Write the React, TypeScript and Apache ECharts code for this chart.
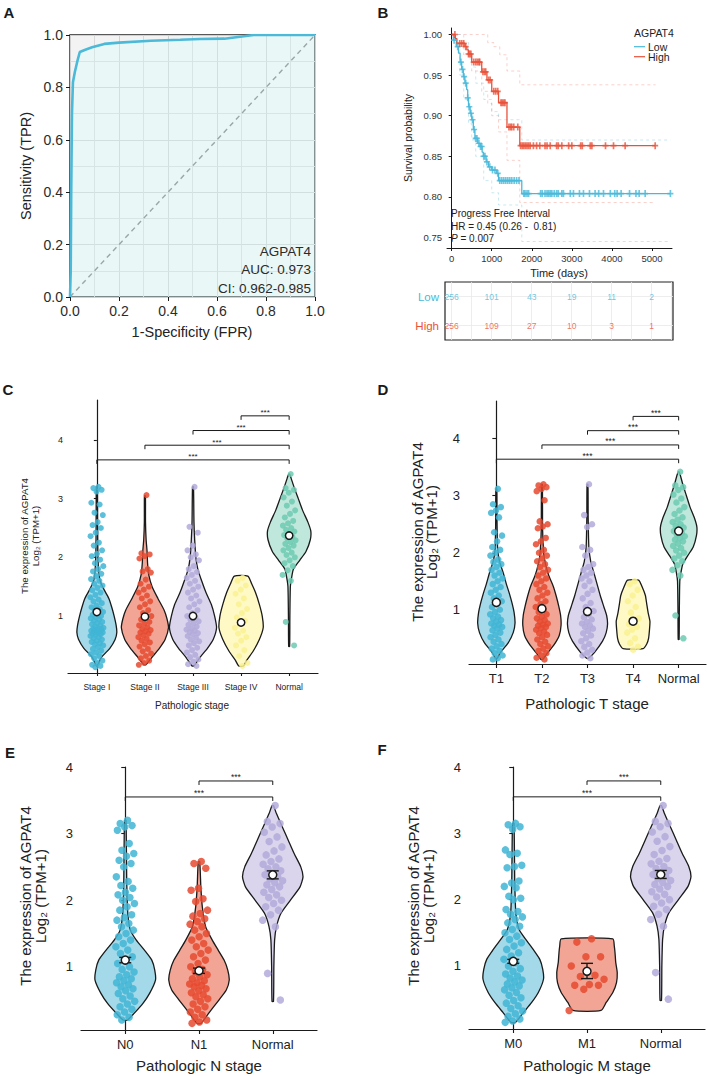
import React, { useEffect, useRef } from "react";
import * as echarts from "echarts";

const FONT = "'Liberation Sans', Arial, Helvetica, sans-serif";
const INK = "#1a1a1a";

// ---------- Panel A : ROC ----------
const rocFpr = [0, 0.003, 0.005, 0.008, 0.012, 0.02, 0.03, 0.04, 0.06, 0.09, 0.14, 0.2, 0.33, 0.45, 0.53, 0.63, 0.75, 1];
const rocTpr = [0, 0.1, 0.4, 0.7, 0.82, 0.86, 0.9, 0.935, 0.943, 0.953, 0.966, 0.971, 0.978, 0.982, 0.985, 0.986, 1, 1];
const rocLines = ["AGPAT4", "AUC: 0.973", "CI: 0.962-0.985"];
const rocMinorGrid = [0.1, 0.3, 0.5, 0.7, 0.9];

// ---------- Panel B : Kaplan-Meier ----------
const lowT = [0, 40, 120, 170, 210, 250, 290, 330, 375, 400, 420, 460, 500, 540, 580, 650, 710, 760, 790, 860, 920, 1000, 1125, 1170, 1750, 5460];
const lowS = [1, 0.993, 0.985, 0.977, 0.966, 0.957, 0.948, 0.94, 0.932, 0.922, 0.911, 0.903, 0.895, 0.883, 0.872, 0.866, 0.862, 0.855, 0.85, 0.843, 0.837, 0.833, 0.829, 0.82, 0.804, 0.804];
const highT = [0, 90, 130, 330, 380, 420, 500, 750, 880, 1000, 1170, 1380, 1700, 5090];
const highS = [1, 0.995, 0.989, 0.985, 0.981, 0.976, 0.966, 0.954, 0.944, 0.93, 0.916, 0.886, 0.863, 0.863];
const lowUpT = [0, 200, 300, 420, 500, 600, 800, 1000, 1170, 1750, 5460];
const lowUpS = [1, 1, 0.99, 0.97, 0.96, 0.94, 0.92, 0.905, 0.895, 0.87, 0.87];
const lowLoT = [0, 100, 200, 300, 420, 500, 600, 800, 1000, 1170, 1750, 5460];
const lowLoS = [1, 0.985, 0.95, 0.92, 0.89, 0.87, 0.85, 0.82, 0.805, 0.79, 0.745, 0.745];
const highUpT = [0, 700, 900, 1050, 1200, 1380, 1700, 5090];
const highUpS = [1, 1, 0.99, 0.985, 0.975, 0.955, 0.938, 0.938];
const highLoT = [0, 100, 300, 500, 750, 900, 1000, 1170, 1380, 1700, 5090];
const highLoS = [1, 0.99, 0.975, 0.955, 0.93, 0.915, 0.9, 0.88, 0.845, 0.793, 0.793];
const lowCensor = [60, 150, 230, 270, 310, 350, 400, 440, 480, 520, 560, 600, 630, 680, 720, 750, 800, 830, 880, 950, 1020, 1080, 1150, 1200, 1250, 1300, 1350, 1400, 1450, 1500, 1560, 1620, 1680, 1800, 1830, 1880, 1920, 2220, 2260, 2330, 2380, 2420, 2460, 2500, 2560, 2620, 2660, 2750, 2790, 2960, 3040, 3190, 3290, 3440, 3580, 3670, 3790, 3960, 4070, 4130, 4230, 4440, 4600, 4680, 4830, 5460];
const highCensor = [80, 200, 250, 300, 350, 420, 450, 480, 550, 600, 640, 680, 700, 780, 820, 850, 920, 960, 1050, 1100, 1150, 1230, 1260, 1300, 1330, 1430, 1470, 1500, 1550, 1650, 1720, 1760, 1800, 1840, 1880, 1920, 1960, 2040, 2120, 2200, 2330, 2380, 2460, 2620, 2660, 2750, 2920, 3000, 3220, 3260, 3460, 3500, 3840, 4040, 4330, 5080];
const kmXTicks = [0, 1000, 2000, 3000, 4000, 5000];
const kmYTicks = [0.75, 0.8, 0.85, 0.9, 0.95, 1.0];
const riskTimes = [0, 1000, 2000, 3000, 4000, 5000];
const riskLow = [256, 101, 43, 19, 11, 2];
const riskHigh = [256, 109, 27, 10, 3, 1];
const riskRows = ["High", "Low"];
const tableLines = [0, 500, 1000, 1500, 2000, 2500, 3000, 3500, 4000, 4500, 5000, 5500];

// ---------- Violin data ----------
const yTicks = [1, 2, 3, 4];
const catC = ["Stage I", "Stage II", "Stage III", "Stage IV", "Normal"];
const catD = ["T1", "T2", "T3", "T4", "Normal"];
const catE = ["N0", "N1", "Normal"];
const catF = ["M0", "M1", "Normal"];

const stageI = [3.2, 3.18, 3.15, 3.12, 2.93, 2.9, 2.76, 2.72, 2.6, 2.55, 2.5, 2.42, 2.36, 2.25, 2.2, 2.12, 2.06, 2.02, 1.96, 1.9, 1.85, 1.8, 1.76, 1.72, 1.68, 1.63, 1.6, 1.55, 1.52, 1.48, 1.44, 1.4, 1.36, 1.32, 1.28, 1.25, 1.22, 1.18, 1.15, 1.12, 1.1, 1.07, 1.04, 1.02, 1.0, 0.98, 0.96, 0.94, 0.92, 0.9, 0.88, 0.86, 0.84, 0.82, 0.8, 0.79, 0.78, 0.77, 0.76, 0.75, 0.74, 0.73, 0.72, 0.71, 0.7, 0.69, 0.68, 0.66, 0.64, 0.62, 0.6, 0.58, 0.56, 0.54, 0.52, 0.5, 0.47, 0.44, 0.41, 0.38, 0.35, 0.32, 0.28, 0.24, 0.2, 0.17, 0.15, 0.13];
const stageII = [3.06, 2.07, 2.05, 2.02, 1.98, 1.8, 1.76, 1.74, 1.62, 1.55, 1.5, 1.45, 1.4, 1.35, 1.3, 1.25, 1.2, 1.15, 1.1, 1.05, 1.0, 0.97, 0.94, 0.9, 0.87, 0.84, 0.81, 0.78, 0.76, 0.74, 0.72, 0.7, 0.67, 0.64, 0.61, 0.58, 0.55, 0.52, 0.48, 0.44, 0.4, 0.36, 0.32, 0.28, 0.24, 0.2, 0.17];
const stageIII = [3.2, 2.52, 2.42, 2.2, 2.12, 2.05, 2.0, 1.95, 1.85, 1.8, 1.75, 1.7, 1.65, 1.6, 1.55, 1.5, 1.45, 1.4, 1.35, 1.3, 1.25, 1.2, 1.15, 1.1, 1.05, 1.0, 0.97, 0.94, 0.91, 0.88, 0.85, 0.82, 0.79, 0.77, 0.75, 0.73, 0.71, 0.69, 0.66, 0.63, 0.6, 0.57, 0.54, 0.5, 0.46, 0.42, 0.38, 0.34, 0.3, 0.26, 0.22, 0.18, 0.15];
const stageIV = [1.65, 1.6, 1.52, 1.45, 1.38, 1.3, 1.2, 1.12, 1.05, 0.98, 0.92, 0.86, 0.8, 0.75, 0.7, 0.64, 0.58, 0.5, 0.42, 0.32, 0.2, 0.15];
const normalVals = [3.42, 3.18, 3.15, 3.1, 3.02, 2.95, 2.88, 2.8, 2.74, 2.68, 2.62, 2.58, 2.54, 2.5, 2.47, 2.44, 2.41, 2.38, 2.35, 2.32, 2.29, 2.26, 2.23, 2.2, 2.16, 2.12, 2.08, 2.04, 2.0, 1.95, 1.9, 1.85, 1.78, 1.7, 1.6, 0.9, 0.5];
const t1 = [3.12, 2.85, 2.8, 2.74, 2.7, 2.62, 2.36, 2.3, 2.2, 2.1, 2.05, 2.0, 1.95, 1.88, 1.84, 1.8, 1.75, 1.7, 1.65, 1.6, 1.55, 1.5, 1.45, 1.4, 1.35, 1.3, 1.25, 1.2, 1.15, 1.1, 1.05, 1.0, 0.96, 0.92, 0.88, 0.85, 0.82, 0.79, 0.76, 0.74, 0.72, 0.7, 0.67, 0.64, 0.6, 0.56, 0.52, 0.48, 0.44, 0.4, 0.36, 0.32, 0.28, 0.24, 0.2, 0.15, 0.13];
const t2 = [3.2, 3.18, 3.15, 3.12, 3.08, 2.92, 2.55, 2.5, 2.46, 2.43, 2.26, 2.2, 2.15, 2.05, 2.0, 1.95, 1.9, 1.85, 1.8, 1.75, 1.7, 1.65, 1.6, 1.55, 1.5, 1.45, 1.4, 1.35, 1.3, 1.25, 1.2, 1.15, 1.1, 1.05, 1.0, 0.96, 0.92, 0.88, 0.85, 0.82, 0.79, 0.76, 0.74, 0.72, 0.7, 0.68, 0.65, 0.62, 0.59, 0.56, 0.52, 0.48, 0.44, 0.4, 0.36, 0.32, 0.28, 0.24, 0.2, 0.16, 0.13];
const t3 = [3.2, 2.66, 2.5, 2.45, 2.1, 2.05, 1.95, 1.8, 1.75, 1.7, 1.65, 1.6, 1.55, 1.5, 1.42, 1.35, 1.28, 1.2, 1.12, 1.05, 0.98, 0.92, 0.87, 0.83, 0.79, 0.76, 0.73, 0.7, 0.67, 0.63, 0.59, 0.55, 0.5, 0.45, 0.4, 0.35, 0.3, 0.25, 0.2, 0.15];
const t4 = [1.5, 1.45, 1.35, 1.25, 1.15, 1.05, 0.95, 0.85, 0.8, 0.75, 0.7, 0.65, 0.6, 0.5, 0.42, 0.35, 0.3];
const n0 = [3.2, 3.15, 3.12, 3.1, 3.05, 2.85, 2.75, 2.7, 2.66, 2.6, 2.55, 2.5, 2.35, 2.28, 2.22, 2.18, 2.12, 2.08, 2.04, 2.0, 1.95, 1.9, 1.85, 1.78, 1.74, 1.7, 1.65, 1.6, 1.55, 1.5, 1.45, 1.4, 1.35, 1.3, 1.25, 1.2, 1.15, 1.1, 1.05, 1.0, 0.96, 0.92, 0.88, 0.85, 0.82, 0.79, 0.76, 0.73, 0.7, 0.67, 0.64, 0.6, 0.56, 0.52, 0.48, 0.44, 0.4, 0.36, 0.32, 0.28, 0.24, 0.2];
const n1 = [2.58, 2.55, 2.48, 2.18, 2.15, 2.02, 1.98, 1.85, 1.8, 1.76, 1.72, 1.68, 1.64, 1.6, 1.55, 1.5, 1.45, 1.4, 1.35, 1.3, 1.25, 1.2, 1.15, 1.1, 1.05, 1.0, 0.96, 0.92, 0.88, 0.85, 0.82, 0.79, 0.76, 0.74, 0.72, 0.7, 0.67, 0.64, 0.61, 0.58, 0.55, 0.52, 0.48, 0.44, 0.4, 0.36, 0.32, 0.28, 0.24, 0.2, 0.17, 0.15];
const m0 = [3.15, 3.13, 3.1, 3.06, 2.75, 2.7, 2.68, 2.52, 2.5, 2.48, 2.28, 2.25, 2.2, 2.18, 2.05, 2.02, 2.0, 1.85, 1.82, 1.78, 1.74, 1.7, 1.65, 1.6, 1.55, 1.5, 1.45, 1.4, 1.35, 1.3, 1.25, 1.2, 1.15, 1.1, 1.05, 1.0, 0.96, 0.92, 0.88, 0.85, 0.82, 0.79, 0.76, 0.73, 0.7, 0.67, 0.64, 0.6, 0.56, 0.52, 0.48, 0.44, 0.4, 0.36, 0.32, 0.28, 0.24, 0.2, 0.17, 0.15];
const m1 = [1.41, 1.36, 1.14, 1.14, 1.0, 0.86, 0.84, 0.8, 0.72, 0.71, 0.71, 0.65, 0.33];

// violin outlines: [value, half-width in category units]
const vStageI = [[0.15, 0.01], [0.3, 0.1], [0.45, 0.27], [0.6, 0.38], [0.72, 0.415], [0.85, 0.4], [1.0, 0.36], [1.15, 0.31], [1.3, 0.25], [1.45, 0.15], [1.6, 0.07], [1.8, 0.035], [2.1, 0.02], [2.6, 0.015], [3.2, 0.01]];
const vStageII = [[0.17, 0.02], [0.3, 0.15], [0.45, 0.3], [0.6, 0.42], [0.8, 0.49], [0.95, 0.46], [1.1, 0.4], [1.3, 0.27], [1.5, 0.15], [1.7, 0.08], [1.9, 0.055], [2.1, 0.045], [2.3, 0.025], [2.6, 0.012], [3.05, 0.01]];
const vStageIII = [[0.15, 0.02], [0.3, 0.15], [0.45, 0.3], [0.6, 0.42], [0.8, 0.49], [1.0, 0.45], [1.2, 0.38], [1.4, 0.27], [1.6, 0.18], [1.8, 0.1], [2.0, 0.06], [2.3, 0.035], [2.6, 0.02], [3.2, 0.01]];
const vStageIV = [[0.15, 0.05], [0.25, 0.12], [0.4, 0.25], [0.6, 0.38], [0.8, 0.46], [1.0, 0.44], [1.2, 0.38], [1.4, 0.3], [1.55, 0.22], [1.68, 0.14]];
const vNormalC = [[0.48, 0.01], [1.0, 0.015], [1.5, 0.025], [1.65, 0.05], [1.8, 0.09], [1.95, 0.22], [2.1, 0.35], [2.3, 0.44], [2.45, 0.45], [2.6, 0.39], [2.8, 0.28], [3.0, 0.19], [3.2, 0.1], [3.35, 0.04], [3.42, 0.01]];
const vT1 = [[0.15, 0.02], [0.25, 0.09], [0.42, 0.26], [0.6, 0.37], [0.77, 0.41], [0.95, 0.39], [1.1, 0.35], [1.3, 0.28], [1.45, 0.22], [1.65, 0.15], [1.85, 0.07], [2.05, 0.03], [2.5, 0.015], [3.12, 0.01]];
const vT2 = [[0.13, 0.02], [0.22, 0.1], [0.38, 0.26], [0.55, 0.38], [0.73, 0.42], [0.9, 0.41], [1.06, 0.37], [1.25, 0.31], [1.41, 0.25], [1.6, 0.15], [1.8, 0.08], [2.0, 0.04], [2.4, 0.015], [3.2, 0.01]];
const vT3 = [[0.15, 0.02], [0.25, 0.15], [0.45, 0.33], [0.6, 0.41], [0.75, 0.44], [0.9, 0.42], [1.05, 0.36], [1.25, 0.28], [1.45, 0.21], [1.65, 0.14], [1.85, 0.07], [2.1, 0.03], [2.6, 0.015], [3.2, 0.01]];
const vT4 = [[0.32, 0.22], [0.4, 0.3], [0.5, 0.34], [0.65, 0.36], [0.8, 0.37], [0.95, 0.33], [1.1, 0.3], [1.25, 0.27], [1.4, 0.2], [1.52, 0.12]];
const vNormalD = [[0.48, 0.01], [1.0, 0.015], [1.5, 0.025], [1.65, 0.05], [1.8, 0.09], [1.95, 0.2], [2.1, 0.32], [2.3, 0.39], [2.45, 0.4], [2.6, 0.35], [2.8, 0.25], [3.0, 0.17], [3.2, 0.09], [3.35, 0.04], [3.42, 0.01]];
const vN0 = [[0.2, 0.03], [0.3, 0.12], [0.45, 0.24], [0.6, 0.33], [0.8, 0.41], [0.95, 0.4], [1.1, 0.36], [1.25, 0.26], [1.4, 0.15], [1.55, 0.07], [1.8, 0.035], [2.3, 0.02], [3.2, 0.01]];
const vN1 = [[0.15, 0.03], [0.3, 0.13], [0.5, 0.27], [0.65, 0.37], [0.8, 0.41], [0.95, 0.39], [1.1, 0.34], [1.25, 0.26], [1.4, 0.18], [1.6, 0.09], [1.9, 0.045], [2.2, 0.025], [2.58, 0.01]];
const vM0 = [[0.15, 0.03], [0.3, 0.14], [0.45, 0.25], [0.6, 0.34], [0.8, 0.41], [0.95, 0.4], [1.1, 0.36], [1.25, 0.27], [1.4, 0.17], [1.55, 0.08], [1.8, 0.035], [2.3, 0.02], [3.15, 0.01]];
const vM1 = [[0.33, 0.19], [0.45, 0.26], [0.6, 0.35], [0.75, 0.4], [0.9, 0.41], [1.05, 0.39], [1.2, 0.38], [1.3, 0.37], [1.41, 0.35]];
const vNormalEF = [[0.48, 0.01], [1.0, 0.015], [1.4, 0.025], [1.6, 0.05], [1.8, 0.11], [2.0, 0.24], [2.2, 0.37], [2.35, 0.41], [2.5, 0.38], [2.7, 0.29], [2.9, 0.21], [3.1, 0.13], [3.3, 0.05], [3.42, 0.01]];

const meanC = [1.07, 0.99, 1.0, 0.89, 2.37];
const meanD = [1.13, 1.02, 0.97, 0.8, 2.38];
const meanE = [1.1, 0.94, 2.38];
const meanF = [1.07, 0.92, 2.38];
const errE = [[1.06, 1.14], [0.9, 0.98], [2.32, 2.44]];
const errF = [[1.04, 1.1], [0.81, 1.04], [2.32, 2.44]];
const pairsC = [[0, 4], [1, 4], [2, 4], [3, 4]];
const pairsE = [[0, 2], [1, 2]];

// colours
const CY = "#41b5d5", CYF = "#a3d9e8";
const RD = "#e64a30", RDF = "#f2a595";
const LV = "#b3aad9", LVF = "#dad5ed";
const YL = "#faf292", YLF = "#fff9c6";
const TL = "#6ccab2", TLF = "#bfe7db";
const KM_LOW = "#4ab9d9", KM_HIGH = "#e8523b";

const jitter = (k: number, w: number) => w * ((((k + 1) * 0.6180339887) % 1) * 2 - 1);
const stepAt = (ts: number[], ss: number[], t: number) => {
  let s = ss[0];
  for (let i = 0; i < ts.length; i++) if (ts[i] <= t) s = ss[i];
  return s;
};
const zip = (a: number[], b: number[]) => a.map((v, i) => [v, b[i]]);

function buildOption() {
  const grids: any[] = [];
  const xAxes: any[] = [];
  const yAxes: any[] = [];
  const series: any[] = [];
  const G: any[] = [];

  const txt = (text: string, x: number, y: number, o: any = {}) => ({
    type: "text", x, y, rotation: o.rot || 0, silent: true, z: 100,
    style: {
      text, fontSize: o.fs || 12, fontFamily: FONT, fill: o.fill || INK,
      align: o.align || "center", verticalAlign: o.va || "middle",
      fontWeight: o.fw || "normal", lineHeight: o.lh, rich: o.rich,
    },
  });

  // ---------- A ----------
  grids.push({ left: 70, top: 35, width: 245, height: 262, show: true, backgroundColor: "#f3f3f3", borderColor: "#222", borderWidth: 1.4, outerBoundsMode: "none" });
  const aAxis = () => ({
    gridIndex: 0, type: "value", min: 0, max: 1, interval: 0.2,
    axisLine: { show: false },
    axisTick: { show: true, length: 4, lineStyle: { color: INK, width: 1 } },
    axisLabel: { fontSize: 14, color: "#2b2b2b", margin: 7, fontFamily: FONT, formatter: (v: number) => v.toFixed(1) },
    splitLine: { show: true, lineStyle: { color: "#d0d0d0", width: 1 } },
  });
  xAxes.push(aAxis());
  yAxes.push(aAxis());
  series.push({
    type: "line", xAxisIndex: 0, yAxisIndex: 0, data: [[0, 0], [1, 1]], symbol: "none", silent: true, z: 3,
    lineStyle: { color: "#7f7f7f", width: 1.4, type: [5, 4] },
    markLine: {
      silent: true, symbol: "none", label: { show: false }, z: 1,
      lineStyle: { color: "#d6d6d6", type: "solid", width: 0.9 },
      data: [...rocMinorGrid.map((v) => ({ xAxis: v })), ...rocMinorGrid.map((v) => ({ yAxis: v }))],
    },
  });
  series.push({
    type: "line", xAxisIndex: 0, yAxisIndex: 0, data: zip(rocFpr, rocTpr), symbol: "none", silent: true, z: 4,
    lineStyle: { color: "#4bb9d8", width: 2.6 },
    areaStyle: { color: "rgba(215,255,255,0.45)", origin: "start" },
  });

  // ---------- B ----------
  grids.push({ left: 447, top: 28, width: 225, height: 220, outerBoundsMode: "none" });
  xAxes.push({
    gridIndex: 1, type: "value", min: -117, max: 5500,
    axisLine: { show: true, lineStyle: { color: INK, width: 1 } },
    axisTick: { show: true, length: 3, customValues: kmXTicks, lineStyle: { color: INK } },
    axisLabel: { fontSize: 9.5, color: "#333", margin: 5, customValues: kmXTicks, fontFamily: FONT, formatter: (v: number) => String(Math.round(v)) },
    splitLine: { show: false },
  });
  yAxes.push({
    gridIndex: 1, type: "value", min: 0.737, max: 1.008,
    axisLine: { show: true, lineStyle: { color: INK, width: 1 } },
    axisTick: { show: true, length: 3, customValues: kmYTicks, lineStyle: { color: INK } },
    axisLabel: { fontSize: 9.5, color: "#333", margin: 5, customValues: kmYTicks, fontFamily: FONT, formatter: (v: number) => v.toFixed(2) },
    splitLine: { show: false },
  });
  const ci = (ts: number[], ss: number[], color: string) => ({
    type: "line", xAxisIndex: 1, yAxisIndex: 1, step: "end", data: zip(ts, ss), symbol: "none", silent: true, z: 2,
    lineStyle: { color, width: 0.9, type: [3, 3] },
  });
  series.push(ci(lowUpT, lowUpS, "rgba(74,185,217,0.35)"));
  series.push(ci(lowLoT, lowLoS, "rgba(74,185,217,0.35)"));
  series.push(ci(highUpT, highUpS, "rgba(232,82,59,0.3)"));
  series.push(ci(highLoT, highLoS, "rgba(232,82,59,0.3)"));
  series.push({ type: "line", xAxisIndex: 1, yAxisIndex: 1, step: "end", data: zip(lowT, lowS), symbol: "none", silent: true, z: 3, lineStyle: { color: KM_LOW, width: 1.3 } });
  series.push({ type: "line", xAxisIndex: 1, yAxisIndex: 1, step: "end", data: zip(highT, highS), symbol: "none", silent: true, z: 3, lineStyle: { color: KM_HIGH, width: 1.3 } });
  const plus = "path://M3.6,0H6.4V10H3.6ZM0,3.8H10V6.2H0Z";
  series.push({ type: "scatter", xAxisIndex: 1, yAxisIndex: 1, symbol: plus, symbolSize: [6, 7], silent: true, z: 4, itemStyle: { color: KM_LOW }, data: lowCensor.map((t) => [t, stepAt(lowT, lowS, t)]) });
  series.push({ type: "scatter", xAxisIndex: 1, yAxisIndex: 1, symbol: plus, symbolSize: [6, 7], silent: true, z: 4, itemStyle: { color: KM_HIGH }, data: highCensor.map((t) => [t, stepAt(highT, highS, t)]) });

  // ---------- risk table ----------
  grids.push({ left: 445, top: 282, width: 228, height: 58, show: true, borderColor: "#222", borderWidth: 1.2, backgroundColor: "#fff", outerBoundsMode: "none" });
  xAxes.push({ gridIndex: 2, type: "value", min: -167, max: 5533, show: false });
  yAxes.push({
    gridIndex: 2, type: "category", data: riskRows,
    axisLine: { show: false },
    axisTick: { show: true, length: 3, alignWithLabel: true, lineStyle: { color: INK } },
    axisLabel: { fontSize: 11.5, margin: 6, fontFamily: FONT, color: (v: string) => (v === "Low" ? KM_LOW : KM_HIGH) },
    splitLine: { show: false },
  });
  const riskSeries = (row: string, vals: number[], color: string, withLines: boolean) => ({
    type: "scatter", xAxisIndex: 2, yAxisIndex: 2, symbolSize: 1, silent: true, z: 5,
    itemStyle: { color: "rgba(0,0,0,0)" },
    label: { show: true, position: "inside", color, fontSize: 8.5, fontFamily: FONT, formatter: (p: any) => String(p.value[2]) },
    data: riskTimes.map((t, i) => [t, row, vals[i]]),
    markLine: withLines ? {
      silent: true, symbol: "none", label: { show: false }, z: 1,
      lineStyle: { color: "#e8e8e8", type: "solid", width: 0.8 },
      data: [...tableLines.map((x) => ({ xAxis: x })), { yAxis: "Low" }, { yAxis: "High" }],
    } : undefined,
  });
  series.push(riskSeries("Low", riskLow, KM_LOW, true));
  series.push(riskSeries("High", riskHigh, KM_HIGH, false));

  // ---------- violin panels ----------
  const panels: any[] = [
    {
      grid: { left: 68, top: 400, width: 250, height: 273 }, ymin: 0.03, ymax: 4.68, cats: catC,
      groups: [stageI, stageII, stageIII, stageIV, normalVals], prof: [vStageI, vStageII, vStageIII, vStageIV, vNormalC],
      col: [CY, RD, LV, YL, TL], fill: [CYF, RDF, LVF, YLF, TLF], means: meanC, errs: null,
      jw: [0.14, 0.14, 0.14, 0.14, 0.14], sym: 6, r: 3.7, pairs: pairsC, base: 3.66, step: 0.25, leg: 4, starFs: 8,
      xfs: 8.5, yfs: 9, xmargin: 9, ymargin: 5, tick: 3,
    },
    {
      grid: { left: 469, top: 401, width: 237, height: 263 }, ymin: 0.05, ymax: 4.66, cats: catD,
      groups: [t1, t2, t3, t4, normalVals], prof: [vT1, vT2, vT3, vT4, vNormalD],
      col: [CY, RD, LV, YL, TL], fill: [CYF, RDF, LVF, YLF, TLF], means: meanD, errs: null,
      jw: [0.14, 0.14, 0.14, 0.14, 0.14], sym: 6.5, r: 4, pairs: pairsC, base: 3.64, step: 0.25, leg: 4, starFs: 8.5,
      xfs: 13, yfs: 13, xmargin: 8, ymargin: 9, tick: 4,
    },
    {
      grid: { left: 81, top: 767, width: 236, height: 263 }, ymin: 0.05, ymax: 4.0, cats: catE,
      groups: [n0, n1, normalVals], prof: [vN0, vN1, vNormalEF],
      col: [CY, RD, LV], fill: [CYF, RDF, LVF], means: meanE, errs: errE,
      jw: [0.13, 0.13, 0.14], sym: 7.5, r: 4, pairs: pairsE, base: 3.55, step: 0.24, leg: 4, starFs: 8.5,
      xfs: 13, yfs: 13, xmargin: 8, ymargin: 8, tick: 4,
    },
    {
      grid: { left: 469, top: 767, width: 236, height: 262 }, ymin: 0.05, ymax: 4.0, cats: catF,
      groups: [m0, m1, normalVals], prof: [vM0, vM1, vNormalEF],
      col: [CY, RD, LV], fill: [CYF, RDF, LVF], means: meanF, errs: errF,
      jw: [0.13, 0.26, 0.14], sym: 7.5, r: 4, pairs: pairsE, base: 3.55, step: 0.24, leg: 4, starFs: 8.5,
      xfs: 13, yfs: 13, xmargin: 8, ymargin: 8, tick: 4,
    },
  ];

  panels.forEach((P) => {
    const gi = grids.length;
    grids.push({ ...P.grid, outerBoundsMode: "none" });
    const n = P.cats.length;
    const xIdx = P.cats.map((_: string, i: number) => i);
    xAxes.push({
      gridIndex: gi, type: "value", min: -0.6, max: n - 0.4,
      axisLine: { show: true, lineStyle: { color: INK, width: 1.2 } },
      axisTick: { show: true, length: P.tick, customValues: xIdx, lineStyle: { color: INK, width: 1.1 } },
      axisLabel: { fontSize: P.xfs, color: "#222", margin: P.xmargin, customValues: xIdx, fontFamily: FONT, formatter: (v: number) => P.cats[Math.round(v)] },
      splitLine: { show: false },
    });
    yAxes.push({
      gridIndex: gi, type: "value", min: P.ymin, max: P.ymax,
      axisLine: { show: true, lineStyle: { color: INK, width: 1.2 } },
      axisTick: { show: true, length: P.tick, customValues: yTicks, lineStyle: { color: INK, width: 1.1 } },
      axisLabel: { fontSize: P.yfs, color: "#222", margin: P.ymargin, customValues: yTicks, fontFamily: FONT },
      splitLine: { show: false },
    });
    // violins
    series.push({
      type: "custom", coordinateSystem: "cartesian2d", xAxisIndex: gi, yAxisIndex: gi, z: 2, silent: true,
      data: P.means.map((m: number, i: number) => [i, m]),
      renderItem: (params: any, api: any) => {
        const i = params.dataIndex;
        const p = P.prof[i];
        const L = p.map((d: number[]) => api.coord([i - d[1], d[0]]));
        const R = p.slice().reverse().map((d: number[]) => api.coord([i + d[1], d[0]]));
        return {
          type: "polygon",
          shape: { points: L.concat(R), smooth: 0.2 },
          style: { fill: P.fill[i], stroke: INK, lineWidth: 1.3 },
        };
      },
    });
    // points
    P.groups.forEach((vals: number[], i: number) => {
      series.push({
        type: "scatter", xAxisIndex: gi, yAxisIndex: gi, z: 3, silent: true, symbolSize: P.sym,
        itemStyle: { color: P.col[i], opacity: 0.85 },
        data: vals.map((v, k) => [i + jitter(k, P.jw[i]), v]),
      });
    });
    // mean markers
    series.push({
      type: "custom", coordinateSystem: "cartesian2d", xAxisIndex: gi, yAxisIndex: gi, z: 5, silent: true,
      data: P.means.map((m: number, i: number) => [i, m]),
      renderItem: (params: any, api: any) => {
        const i = params.dataIndex;
        const c = api.coord([i, P.means[i]]);
        const ch: any[] = [];
        if (P.errs) {
          const lo = api.coord([i, P.errs[i][0]]);
          const hi = api.coord([i, P.errs[i][1]]);
          const cw = 6;
          const st = { stroke: INK, lineWidth: 1.4 };
          ch.push({ type: "line", shape: { x1: c[0], y1: lo[1], x2: c[0], y2: hi[1] }, style: st });
          ch.push({ type: "line", shape: { x1: c[0] - cw, y1: lo[1], x2: c[0] + cw, y2: lo[1] }, style: st });
          ch.push({ type: "line", shape: { x1: c[0] - cw, y1: hi[1], x2: c[0] + cw, y2: hi[1] }, style: st });
        }
        ch.push({ type: "circle", shape: { cx: c[0], cy: c[1], r: P.r }, style: { fill: "#fff", stroke: INK, lineWidth: 1.5 } });
        return { type: "group", children: ch };
      },
    });
    // significance brackets
    series.push({
      type: "custom", coordinateSystem: "cartesian2d", xAxisIndex: gi, yAxisIndex: gi, z: 5, silent: true,
      data: P.pairs.map((pr: number[], k: number) => [pr[0], pr[1], k]),
      renderItem: (params: any, api: any) => {
        const k = params.dataIndex;
        const pr = P.pairs[k];
        const y = P.base + k * P.step;
        const p1 = api.coord([pr[0], y]);
        const p2 = api.coord([pr[1], y]);
        return {
          type: "group",
          children: [
            {
              type: "polyline",
              shape: { points: [[p1[0], p1[1] + P.leg], [p1[0], p1[1]], [p2[0], p2[1]], [p2[0], p2[1] + P.leg]] },
              style: { stroke: INK, lineWidth: 1, fill: "none" },
            },
            {
              type: "text",
              style: { text: "***", x: (p1[0] + p2[0]) / 2, y: p1[1] + 1, align: "center", verticalAlign: "bottom", fontSize: P.starFs, fontFamily: FONT, fill: INK },
            },
          ],
        };
      },
    });
  });

  // ---------- graphic texts ----------
  G.push(txt("A", 9, 12, { fs: 15, fw: "bold" }));
  G.push(txt("B", 383, 12, { fs: 15, fw: "bold" }));
  G.push(txt("C", 8, 389, { fs: 15, fw: "bold" }));
  G.push(txt("D", 383, 389, { fs: 15, fw: "bold" }));
  G.push(txt("E", 10, 752, { fs: 15, fw: "bold" }));
  G.push(txt("F", 382, 749, { fs: 15, fw: "bold" }));

  G.push(txt("Sensitivity (TPR)", 26, 166, { fs: 14.5, rot: Math.PI / 2, fill: "#222" }));
  G.push(txt("1-Specificity (FPR)", 192, 332, { fs: 14.5, fill: "#222" }));
  rocLines.forEach((s, i) => G.push(txt(s, 311, 251 + i * 18.5, { fs: 13.5, align: "right", fill: "#2b2b2b" })));

  G.push(txt("Survival probability", 408, 138, { fs: 10.5, rot: Math.PI / 2, fill: "#222" }));
  G.push(txt("Time (days)", 559, 273, { fs: 11, fill: "#222" }));
  G.push(txt("Progress Free Interval", 451, 213, { fs: 10, align: "left", fill: "#222" }));
  G.push(txt("HR = 0.45 (0.26 -  0.81)", 451, 226, { fs: 10, align: "left", fill: "#222" }));
  G.push(txt("{i|P}{n| = 0.007}", 451, 238, {
    fs: 10, align: "left", fill: "#222",
    rich: { i: { fontStyle: "italic", fontSize: 10, fontFamily: FONT, fill: "#222" }, n: { fontSize: 10, fontFamily: FONT, fill: "#222" } },
  }));
  G.push(txt("AGPAT4", 634, 33, { fs: 10.5, align: "left", fill: "#222" }));
  G.push({ type: "line", silent: true, shape: { x1: 634, y1: 46.7, x2: 645, y2: 46.7 }, style: { stroke: KM_LOW, lineWidth: 1.2 } });
  G.push({ type: "line", silent: true, shape: { x1: 634, y1: 56.7, x2: 645, y2: 56.7 }, style: { stroke: KM_HIGH, lineWidth: 1.2 } });
  G.push(txt("Low", 648, 46.7, { fs: 10.5, align: "left", fill: "#222" }));
  G.push(txt("High", 648, 56.7, { fs: 10.5, align: "left", fill: "#222" }));

  const yTitle = "The expression of AGPAT4\nLog\u2082 (TPM+1)";
  G.push(txt("Pathologic stage", 192, 705, { fs: 10, fill: "#222" }));
  G.push(txt(yTitle, 29.5, 536, { fs: 9.7, lh: 11, rot: Math.PI / 2, fill: "#222" }));
  G.push(txt("Pathologic T stage", 587, 703, { fs: 15, fill: "#222" }));
  G.push(txt(yTitle, 424, 532, { fs: 15, lh: 14, rot: Math.PI / 2, fill: "#222" }));
  G.push(txt("Pathologic N stage", 199, 1065, { fs: 15, fill: "#222" }));
  G.push(txt(yTitle, 32.5, 896, { fs: 15, lh: 15, rot: Math.PI / 2, fill: "#222" }));
  G.push(txt("Pathologic M stage", 587, 1065, { fs: 15, fill: "#222" }));
  G.push(txt(yTitle, 420.5, 896, { fs: 15, lh: 15, rot: Math.PI / 2, fill: "#222" }));

  return {
    animation: false,
    backgroundColor: "#ffffff",
    textStyle: { fontFamily: FONT },
    grid: grids,
    xAxis: xAxes,
    yAxis: yAxes,
    series,
    graphic: { elements: G },
  };
}

export default function App() {
  const ref = useRef<HTMLDivElement>(null);
  useEffect(() => {
    if (!ref.current) return;
    const chart = echarts.init(ref.current, undefined, { renderer: "svg" });
    chart.setOption(buildOption() as any);
    return () => chart.dispose();
  }, []);
  return <div ref={ref} style={{ position: "absolute", left: 0, top: 0, width: 707, height: 1076, background: "#fff" }} />;
}
